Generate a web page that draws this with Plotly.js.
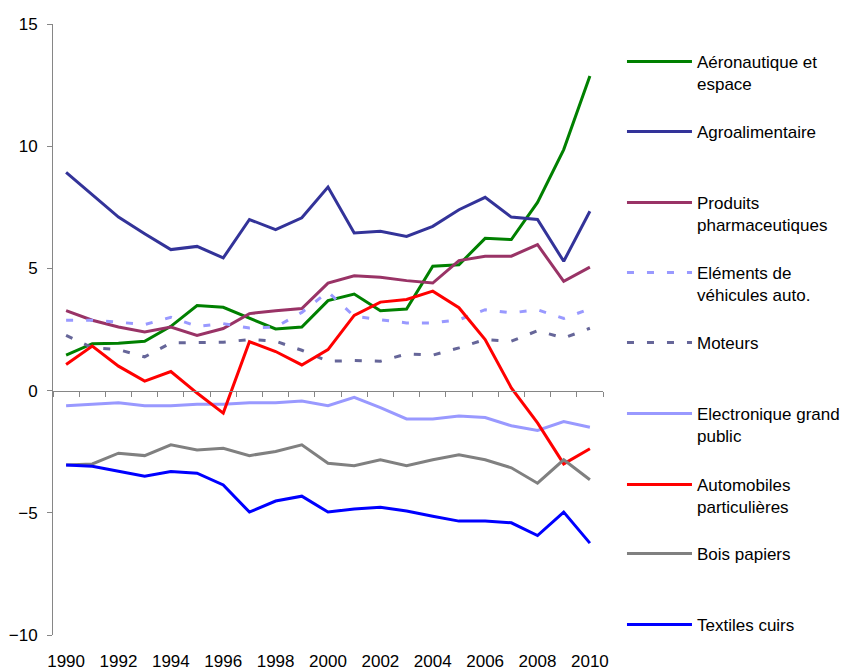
<!DOCTYPE html>
<html>
<head>
<meta charset="utf-8">
<script src="https://cdn.plot.ly/plotly-3.0.1.min.js"></script>
<style>html,body{margin:0;padding:0;background:#fff;}#chart{width:847px;height:671px;}</style>
</head>
<body>
<div id="chart"></div>
<script>
const years = [1990,1991,1992,1993,1994,1995,1996,1997,1998,1999,2000,2001,2002,2003,2004,2005,2006,2007,2008,2009,2010];
const xTickLabels = ['1990','1992','1994','1996','1998','2000','2002','2004','2006','2008','2010'];

const aeronautique = [1.45,1.92,1.94,2.02,2.63,3.48,3.41,2.95,2.52,2.6,3.68,3.95,3.27,3.34,5.09,5.15,6.23,6.18,7.7,9.86,12.87];
const agroalimentaire = [8.93,8.0,7.1,6.42,5.77,5.9,5.43,7.0,6.59,7.07,8.33,6.45,6.52,6.31,6.72,7.4,7.91,7.1,7.0,5.29,7.34];
const pharma = [3.27,2.88,2.6,2.4,2.6,2.26,2.54,3.15,3.27,3.36,4.4,4.7,4.64,4.5,4.4,5.32,5.5,5.5,5.97,4.47,5.05];
const elements = [2.88,2.88,2.8,2.7,3.0,2.63,2.74,2.56,2.6,3.2,4.04,3.04,2.9,2.77,2.77,2.9,3.31,3.18,3.31,2.95,3.35];
const moteurs = [2.26,1.75,1.68,1.38,1.95,1.98,1.98,2.09,2.02,1.65,1.2,1.23,1.2,1.5,1.45,1.75,2.09,2.02,2.45,2.15,2.55];
const electronique = [-0.62,-0.56,-0.5,-0.62,-0.62,-0.56,-0.56,-0.5,-0.5,-0.43,-0.62,-0.28,-0.7,-1.16,-1.16,-1.04,-1.1,-1.44,-1.63,-1.27,-1.5];
const automobiles = [1.07,1.82,1.0,0.39,0.78,-0.1,-0.92,2.0,1.6,1.05,1.68,3.08,3.62,3.73,4.07,3.39,2.09,0.11,-1.32,-3.0,-2.38];
const bois = [-3.04,-3.0,-2.56,-2.66,-2.22,-2.43,-2.36,-2.66,-2.49,-2.22,-2.97,-3.07,-2.83,-3.07,-2.83,-2.63,-2.83,-3.16,-3.79,-2.83,-3.65];
const textiles = [-3.04,-3.1,-3.3,-3.5,-3.31,-3.38,-3.86,-4.97,-4.52,-4.32,-4.97,-4.84,-4.77,-4.93,-5.14,-5.34,-5.34,-5.41,-5.93,-4.97,-6.24];

const seriesNames = ['Aéronautique et<br>espace','Agroalimentaire','Produits<br>pharmaceutiques','Eléments de<br>véhicules auto.','Moteurs','Electronique grand<br>public','Automobiles<br>particulières','Bois papiers','Textiles cuirs'];
const seriesData = [aeronautique, agroalimentaire, pharma, elements, moteurs, electronique, automobiles, bois, textiles];
const seriesColors = ['#008000','#333399','#993366','#9999FF','#666699','#9999FF','#FF0000','#808080','#0000FF'];
const seriesDash = ['solid','solid','solid','7px,13px','7px,13px','solid','solid','solid','solid'];

// legend symbol pixel rows (layout only)
const legendRowsPx = [60,130,201,271,341,412,483,552,623];
const plotTop = 24, plotBottom = 635;
const font = 'Liberation Sans, Arial, sans-serif';

const traces = seriesNames.map((n,i) => ({
  type:'scatter', mode:'lines', x: years, y: seriesData[i], name: n,
  line:{color: seriesColors[i], width: 3, dash: seriesDash[i]},
  legend: i === 0 ? 'legend' : 'legend' + (i+1)
}));
traces.push({type:'scatter', mode:'lines', x:[], y:[], xaxis:'x2', showlegend:false, hoverinfo:'skip'});

const layout = {
  width: 847, height: 671,
  margin: {l:53, r:244, t:24, b:36, autoexpand:false},
  paper_bgcolor:'#fff', plot_bgcolor:'#fff',
  font: {family: font, size: 17, color:'#000'},
  showlegend: true,
  xaxis: {
    range:[1989.5, 2010.5], tickvals: xTickLabels.map(Number), ticktext: xTickLabels,
    showline:false, showgrid:false, zeroline:false, ticks:'', ticklabelstandoff: 14,
    tickfont:{family:font, size:17, color:'#000'}
  },
  xaxis2: {
    overlaying:'x', matches:'x', anchor:'free', position: 0.4, side:'bottom',
    showline:true, linecolor:'#868686', linewidth:1,
    ticks:'outside', ticklen:5, tickcolor:'#868686', tickwidth:1,
    tickmode:'linear', tick0:1989.5, dtick:1,
    showticklabels:false, showgrid:false, zeroline:false
  },
  yaxis: {
    range:[-10,15], dtick:5, tick0:0, showgrid:false, zeroline:false,
    showline:true, linecolor:'#868686', linewidth:1,
    ticks:'outside', ticklen:5, tickcolor:'#868686',
    ticklabelstandoff: 6,
    tickfont:{family:font, size:17, color:'#000'}
  }
};

legendRowsPx.forEach((py, i) => {
  const key = i === 0 ? 'legend' : 'legend' + (i+1);
  layout[key] = {
    x: 1.0345, xanchor:'left',
    y: (plotBottom - (py - 16)) / (plotBottom - plotTop), yanchor:'top',
    bgcolor:'rgba(0,0,0,0)', borderwidth:0,
    itemwidth: 65, valign:'top',
    font:{family:font, size:17, color:'#000'}
  };
});

Plotly.newPlot('chart', traces, layout, {displayModeBar:false, staticPlot:true});
</script>
</body>
</html>
